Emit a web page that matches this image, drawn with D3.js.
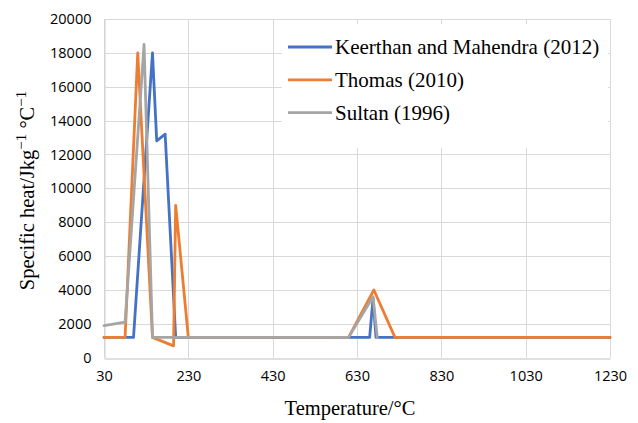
<!DOCTYPE html>
<html>
<head>
<meta charset="utf-8">
<script src="https://cdn.jsdelivr.net/npm/d3@7"></script>
<style>
  html, body { margin: 0; padding: 0; background: #fff; }
  svg { display: block; }
</style>
</head>
<body>
<svg id="chart" width="638" height="423"></svg>
<script>
// Specific heat curves (temperature in °C, specific heat in J/kg°C)
const keerthanTemp = [30, 100, 145, 155, 175, 200, 660, 668, 675, 1230];
const keerthanCp   = [1200, 1200, 18000, 12800, 13200, 1200, 1200, 3500, 1200, 1200];

const thomasTemp = [30, 80, 110, 145, 195, 200, 230, 610, 670, 720, 1230];
const thomasCp   = [1200, 1200, 18000, 1200, 700, 9000, 1200, 1200, 4000, 1200, 1200];

const sultanTemp = [30, 80, 125, 145, 610, 668, 678];
const sultanCp   = [1900, 2100, 18500, 1200, 1200, 3600, 1200];

const seriesNames = ["Keerthan and Mahendra (2012)", "Thomas (2010)", "Sultan (1996)"];
const seriesColors = ["#4472C4", "#ED7D31", "#A5A5A5"];

const xTicks = [30, 230, 430, 630, 830, 1030, 1230];
const yTicks = [0, 2000, 4000, 6000, 8000, 10000, 12000, 14000, 16000, 18000, 20000];

const series = [
  { name: seriesNames[0], color: seriesColors[0], pts: keerthanTemp.map((t, i) => [t, keerthanCp[i]]) },
  { name: seriesNames[1], color: seriesColors[1], pts: thomasTemp.map((t, i) => [t, thomasCp[i]]) },
  { name: seriesNames[2], color: seriesColors[2], pts: sultanTemp.map((t, i) => [t, sultanCp[i]]) }
];

const svg = d3.select("#chart");
const plotLeft = 104, plotRight = 610, plotTop = 19, plotBottom = 357.7;

const x = d3.scaleLinear().domain([30, 1230]).range([plotLeft, plotRight]);
const y = d3.scaleLinear().domain([0, 20000]).range([plotBottom, plotTop]);

const tickFont = "'Open Sans', 'Liberation Sans', sans-serif";
const serif = "'Liberation Serif', 'Times New Roman', serif";

// Gridlines
const grid = svg.append("g");
grid.selectAll("line.h").data(yTicks.slice(1)).join("line")
  .attr("x1", plotLeft).attr("x2", plotRight)
  .attr("y1", d => Math.round(y(d)) + 0.5).attr("y2", d => Math.round(y(d)) + 0.5)
  .attr("stroke", "#d9d9d9").attr("stroke-width", 1);
grid.selectAll("line.v").data(xTicks).join("line")
  .attr("x1", d => Math.round(x(d)) + 0.5).attr("x2", d => Math.round(x(d)) + 0.5)
  .attr("y1", plotTop).attr("y2", plotBottom)
  .attr("stroke", "#d9d9d9").attr("stroke-width", 1);

// Axes
const xAxis = d3.axisBottom(x).tickValues(xTicks).tickSize(0).tickPadding(12).tickFormat(d3.format("d"));
const gx = svg.append("g").attr("transform", `translate(0,${Math.round(plotBottom) + 0.5})`).call(xAxis);
gx.select(".domain").attr("stroke", "#bfbfbf").attr("stroke-width", 1.2);
gx.selectAll("text").attr("font-family", tickFont).attr("font-size", "14.5px").attr("fill", "#000");

const yAxis = d3.axisLeft(y).tickValues(yTicks).tickSize(0).tickPadding(13).tickFormat(d3.format("d"));
const gy = svg.append("g").attr("transform", `translate(${plotLeft + 0.5},0)`).call(yAxis);
gy.select(".domain").attr("stroke", "#d0d0d0").attr("stroke-width", 1);
gy.selectAll("text").attr("font-family", tickFont).attr("font-size", "14.5px").attr("fill", "#000");

// Series lines
const line = d3.line().x(d => x(d[0])).y(d => y(d[1]));
svg.append("g").selectAll("path").data(series).join("path")
  .attr("d", d => line(d.pts))
  .attr("fill", "none")
  .attr("stroke", d => d.color)
  .attr("stroke-width", 2.8)
  .attr("stroke-linejoin", "round")
  .attr("stroke-linecap", "round");

// Legend
const legend = svg.append("g");
legend.append("rect").attr("x", 282).attr("y", 24).attr("width", 326).attr("height", 124).attr("fill", "#fff");
const items = legend.selectAll("g.item").data(series).join("g")
  .attr("transform", (d, i) => `translate(288,${47 + i * 32.8})`);
items.append("line").attr("x1", 0).attr("x2", 44).attr("y1", 0).attr("y2", 0)
  .attr("stroke", d => d.color).attr("stroke-width", 2.8);
items.append("text").attr("x", 47).attr("y", 0).attr("dy", "0.34em")
  .attr("font-family", serif).attr("font-size", "21px").attr("fill", "#000")
  .text(d => d.name);

// Axis titles
svg.append("text").attr("x", 350).attr("y", 415).attr("text-anchor", "middle")
  .attr("font-family", serif).attr("font-size", "20.5px").attr("fill", "#000")
  .text("Temperature/°C");

const yTitle = svg.append("text")
  .attr("transform", "translate(33.5,190.5) rotate(-90)")
  .attr("text-anchor", "middle")
  .attr("font-family", serif).attr("font-size", "20.5px").attr("fill", "#000");
yTitle.append("tspan").text("Specific heat/Jkg");
yTitle.append("tspan").attr("font-size", "15px").attr("dy", "-8").text("−1");
yTitle.append("tspan").attr("dy", "8").text(" °C");
yTitle.append("tspan").attr("font-size", "15px").attr("dy", "-8").text("−1");
</script>
</body>
</html>
